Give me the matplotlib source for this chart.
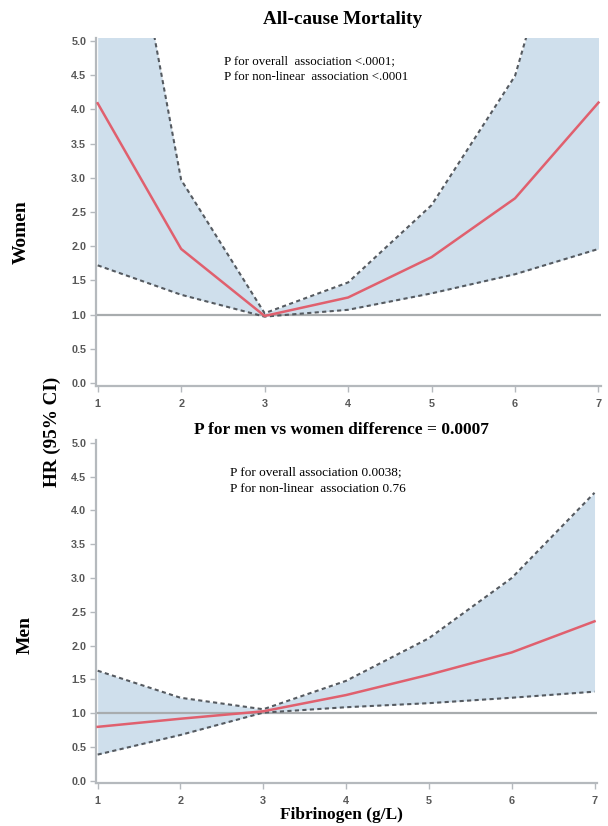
import matplotlib
matplotlib.use("Agg")
import matplotlib.pyplot as plt

# ---- data ----
fibrinogen = [1, 2, 3, 4, 5, 6, 7]
women_hr = [4.09, 1.96, 0.98, 1.25, 1.84, 2.70, 4.10]
women_lo = [1.72, 1.29, 0.97, 1.07, 1.31, 1.59, 1.96]
women_hi = [9.5, 2.97, 1.02, 1.47, 2.60, 4.49, 8.7]
men_hr = [0.80, 0.92, 1.03, 1.27, 1.57, 1.90, 2.36]
men_lo = [0.39, 0.68, 1.01, 1.09, 1.15, 1.23, 1.32]
men_hi = [1.63, 1.23, 1.06, 1.48, 2.11, 3.00, 4.26]
yticks = [0.0, 0.5, 1.0, 1.5, 2.0, 2.5, 3.0, 3.5, 4.0, 4.5, 5.0]
xticks = [1, 2, 3, 4, 5, 6, 7]

W, H = 608, 826
fig = plt.figure(figsize=(W / 100, H / 100), dpi=100)

SERIF = ["Liberation Serif", "DejaVu Serif"]
SANS = ["Liberation Sans", "DejaVu Sans"]
FILL = "#cfdfec"
RED = "#e0606e"
DASH = "#555a60"
SPINE = "#b5b9bd"


def px(l, t, r, b):
    return [l / W, 1 - b / H, (r - l) / W, (b - t) / H]


def panel(rect, hr, lo, hi, ylim, xlim):
    ax = fig.add_axes(rect)
    ax.fill_between(fibrinogen, lo, hi, color=FILL, lw=0, zorder=1)
    ax.axhline(1.0, color="#a8acae", lw=1.6, zorder=2)
    ax.plot(fibrinogen, lo, color=DASH, lw=1.5, ls=(0, (2, 1.6)), zorder=3)
    ax.plot(fibrinogen, hi, color=DASH, lw=1.5, ls=(0, (2, 1.6)), zorder=3)
    ax.plot(fibrinogen, hr, color=RED, lw=1.8, zorder=4)
    ax.set_xlim(*xlim)
    ax.set_ylim(*ylim)
    ax.set_yticks(yticks)
    ax.set_yticklabels([f"{v:.1f}" for v in yticks])
    ax.set_xticks(xticks)
    ax.set_xticklabels([str(v) for v in xticks])
    for s in ("top", "right"):
        ax.spines[s].set_visible(False)
    for s in ("left", "bottom"):
        ax.spines[s].set_color(SPINE)
        ax.spines[s].set_linewidth(1.6)
    ax.tick_params(axis="both", colors=SPINE, length=4, width=1.0, pad=3)
    for lab in ax.get_xticklabels() + ax.get_yticklabels():
        lab.set_color("#585858")
        lab.set_fontsize(7.8)
        lab.set_fontfamily(SANS)
        lab.set_fontweight("bold")
    ax.tick_params(axis="x", pad=5)
    return ax


ax1 = panel(px(96, 37.6, 601, 386.4), women_hr, women_lo, women_hi, (-0.05, 5.05), (0.98, 7.03))
ax2 = panel(px(96, 440, 597, 783), men_hr, men_lo, men_hi, (-0.03, 5.04), (0.98, 7.03))

# titles & annotations
fig.text(343 / W, 1 - 20 / H, "All-cause Mortality", family=SERIF, weight="bold",
         fontsize=13.8, ha="center", va="center")
fig.text(224 / W, 1 - 61 / H, "P for overall  association <.0001;", family=SERIF,
         fontsize=9.3, ha="left", va="center")
fig.text(224 / W, 1 - 77 / H, "P for non-linear  association <.0001", family=SERIF,
         fontsize=9.3, ha="left", va="center")

fig.text(341 / W, 1 - 430 / H, "P for men vs women difference = 0.0007", family=SERIF,
         weight="bold", fontsize=12.5, ha="center", va="center")
fig.text(230 / W, 1 - 472.5 / H, "P for overall association 0.0038;", family=SERIF,
         fontsize=9.5, ha="left", va="center")
fig.text(230 / W, 1 - 489 / H, "P for non-linear  association 0.76", family=SERIF,
         fontsize=9.5, ha="left", va="center")

# axis labels
fig.text(21 / W, 1 - 232.5 / H, "Women", family=SERIF, weight="bold", fontsize=14,
         rotation=90, ha="center", va="center")
fig.text(52 / W, 1 - 432 / H, "HR (95% CI)", family=SERIF, weight="bold", fontsize=13.8,
         rotation=90, ha="center", va="center")
fig.text(25 / W, 1 - 635 / H, "Men", family=SERIF, weight="bold", fontsize=14,
         rotation=90, ha="center", va="center")
fig.text(341 / W, 1 - 815 / H, "Fibrinogen (g/L)", family=SERIF, weight="bold",
         fontsize=12.5, ha="center", va="center")

fig.savefig("out.png", dpi=100)
